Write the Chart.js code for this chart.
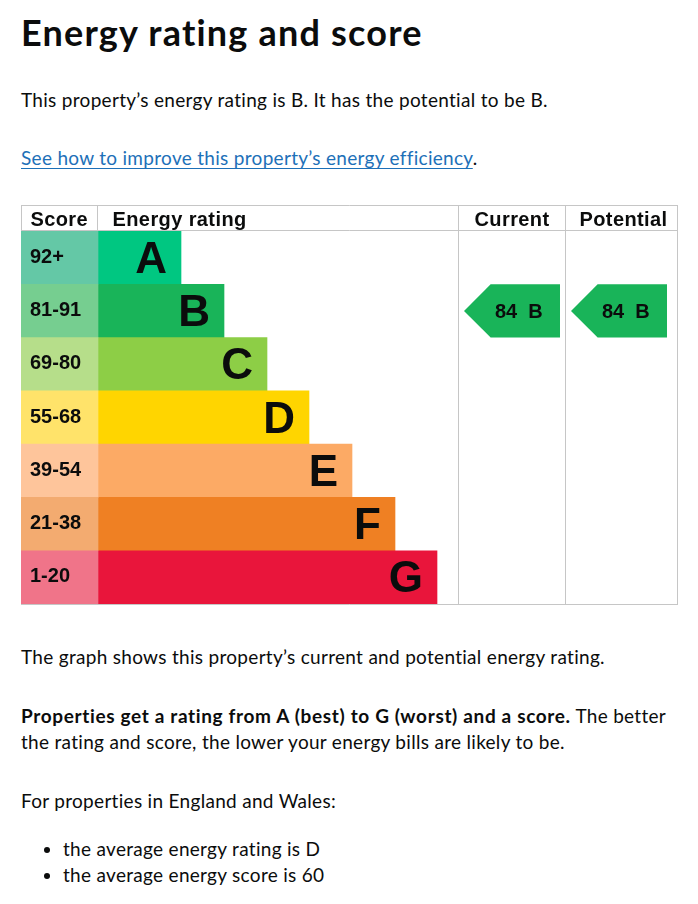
<!DOCTYPE html>
<html lang="en">
<head>
<meta charset="utf-8">
<title>Energy rating and score</title>
<script src="https://cdn.jsdelivr.net/npm/chart.js@4.4.1/dist/chart.umd.min.js"></script>
<style>
  body {
    margin: 0;
    background: #fff;
    color: #0b0c0c;
    font-family: Lato, "Noto Sans", sans-serif;
  }
  .page { padding: 0 21px; width: 656px; }
  h1 { font-size: 36px; line-height: 40px; font-weight: 700; letter-spacing: 1.2px; margin: 12px 0 0; }
  p { font-size: 19px; line-height: 26px; letter-spacing: 0.3px; margin: 0; }
  strong { letter-spacing: 0.65px; }
  a { color: #1d70b8; text-decoration: underline; text-decoration-thickness: 1px; text-underline-offset: 3px; }
  .intro { margin-top: 35px; }
  .link { margin-top: 32px; }
  .chart-box { margin-top: 34px; height: 400px; }
  .chart-box canvas { display: block; }
  .graph-note { margin-top: 39px; }
  .rating-note { margin-top: 33px; }
  .avg-note { margin-top: 33px; }
  ul { margin: 22px 0 0; padding-left: 42px; font-size: 19px; line-height: 26px; letter-spacing: 0.3px; }
</style>
</head>
<body>
<div class="page">
  <h1>Energy rating and score</h1>
  <p class="intro">This property’s energy rating is B. It has the potential to be B.</p>
  <p class="link"><a href="#">See how to improve this property’s energy efficiency</a>.</p>

  <div class="chart-box">
    <canvas id="epcChart" width="657" height="400"></canvas>
  </div>

  <p class="graph-note">The graph shows this property’s current and potential energy rating.</p>
  <p class="rating-note"><strong>Properties get a rating from A (best) to G (worst) and a score.</strong> The better<br>the rating and score, the lower your energy bills are likely to be.</p>
  <p class="avg-note">For properties in England and Wales:</p>
  <ul>
    <li>the average energy rating is D</li>
    <li>the average energy score is 60</li>
  </ul>
</div>

<script>
// dades del grafic
const bands = ['A', 'B', 'C', 'D', 'E', 'F', 'G'];
const scoreRanges = ['92+', '81-91', '69-80', '55-68', '39-54', '21-38', '1-20'];
const bandMinScores = [92, 81, 69, 55, 39, 21, 1];
const bandLengths = [83, 126, 169, 211, 254, 297, 339];
const currentScore = 84;
const potentialScore = 84;

const bandColours = ['#00c781', '#19b459', '#8dce46', '#ffd500', '#fcaa65', '#ef8023', '#e9153b'];
const scoreColours = ['#64c8a6', '#76ce90', '#b6de8a', '#ffe36a', '#fec59b', '#f3ab70', '#f07489'];

// table columns, in x scale units
const tableWidth = 656;
const scoreColumnWidth = 77;
const currentColumn = [437, 544];
const potentialColumn = [544, 656];

const ink = '#0b0c0c';
const lineColour = '#c6c6c6';
const tableFont = '"Liberation Sans", Arial, sans-serif';

function bandIndex(score) {
    return bandMinScores.findIndex(min => score >= min);
}

const epcTable = {
    id: 'epcTable',
    afterDatasetsDraw(chart) {
        const { ctx, chartArea, scales: { x, y } } = chart;
        const rowHeight = (chartArea.bottom - chartArea.top) / bands.length;
        const headerBottom = chartArea.top - 0.5;
        const scoreEdge = Math.round(x.getPixelForValue(scoreColumnWidth)) - 0.5;
        const curLeft = Math.round(x.getPixelForValue(currentColumn[0])) + 0.5;
        const potLeft = Math.round(x.getPixelForValue(potentialColumn[0])) + 0.5;
        const right = Math.round(x.getPixelForValue(tableWidth)) + 0.5;

        ctx.save();

        // vores de la taula
        ctx.strokeStyle = lineColour;
        ctx.lineWidth = 1;
        ctx.beginPath();
        ctx.moveTo(0, 0.5); ctx.lineTo(right, 0.5);
        ctx.moveTo(0, headerBottom); ctx.lineTo(right, headerBottom);
        ctx.moveTo(0, chartArea.bottom + 0.5); ctx.lineTo(right, chartArea.bottom + 0.5);
        ctx.moveTo(0.5, 0); ctx.lineTo(0.5, headerBottom);
        ctx.moveTo(scoreEdge, 0); ctx.lineTo(scoreEdge, headerBottom);
        [curLeft, potLeft, right].forEach(px => {
            ctx.moveTo(px, 0); ctx.lineTo(px, chartArea.bottom + 1);
        });
        ctx.stroke();

        // capcalera
        ctx.fillStyle = ink;
        ctx.font = 'bold 20px ' + tableFont;
        ctx.letterSpacing = '0.4px';
        ctx.textBaseline = 'alphabetic';
        ctx.textAlign = 'center';
        ctx.fillText('Score', scoreEdge / 2, 21);
        ctx.fillText('Current', (curLeft + potLeft) / 2, 21);
        ctx.fillText('Potential', (potLeft + right) / 2 + 2, 21);
        ctx.textAlign = 'left';
        ctx.fillText('Energy rating', scoreEdge + 15, 21);
        ctx.letterSpacing = '0px';

        // rangs de puntuacio i lletres
        bands.forEach((band, i) => {
            const yc = y.getPixelForValue(i);
            ctx.font = 'bold 20px ' + tableFont;
            ctx.textAlign = 'left';
            ctx.fillText(scoreRanges[i], 9, yc + 5);

            ctx.font = 'bold 44px ' + tableFont;
            ctx.textAlign = 'right';
            const barEnd = x.getPixelForValue(scoreColumnWidth + bandLengths[i]);
            ctx.fillText(band, barEnd - 14, yc + 15);
        });

        // fletxes actual i potencial
        const drawArrow = (colStart, score) => {
            const idx = bandIndex(score);
            const yc = y.getPixelForValue(idx);
            const half = rowHeight / 2;
            const tip = x.getPixelForValue(colStart) + 6;
            const end = tip + 96;
            ctx.fillStyle = bandColours[idx];
            ctx.beginPath();
            ctx.moveTo(tip, yc);
            ctx.lineTo(tip + half, yc - half);
            ctx.lineTo(end, yc - half);
            ctx.lineTo(end, yc + half);
            ctx.lineTo(tip + half, yc + half);
            ctx.closePath();
            ctx.fill();
            ctx.fillStyle = ink;
            ctx.font = 'bold 20px ' + tableFont;
            ctx.textAlign = 'left';
            ctx.fillText(score + '  ' + bands[idx], tip + 31, yc + 7);
        };
        drawArrow(currentColumn[0], currentScore);
        drawArrow(potentialColumn[0], potentialScore);

        ctx.restore();
    }
};

document.addEventListener('DOMContentLoaded', () => {
    const canvas = document.getElementById('epcChart');
    new Chart(canvas, {
        type: 'bar',
        data: {
            labels: bands,
            datasets: [
                {
                    label: 'Score',
                    data: bands.map(() => scoreColumnWidth),
                    backgroundColor: scoreColours,
                },
                {
                    label: 'Energy rating',
                    data: bandLengths,
                    backgroundColor: bandColours,
                }
            ]
        },
        options: {
            indexAxis: 'y',
            responsive: false,
            animation: false,
            layout: { padding: { top: 26, right: 1, bottom: 1, left: 0 } },
            datasets: {
                bar: { barPercentage: 1, categoryPercentage: 1, borderWidth: 0 }
            },
            scales: {
                x: { stacked: true, min: 0, max: tableWidth, display: false },
                y: { stacked: true, display: false }
            },
            plugins: {
                legend: { display: false },
                tooltip: { enabled: false }
            }
        },
        plugins: [epcTable]
    });
});
</script>
</body>
</html>
